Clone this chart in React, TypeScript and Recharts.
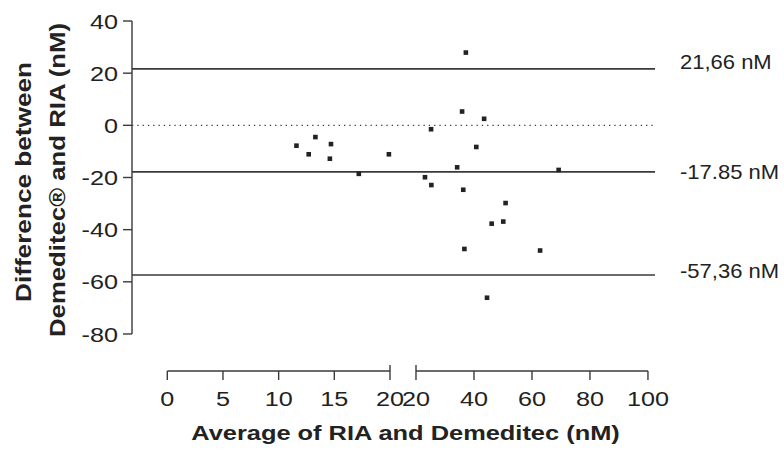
import React from 'react';
import { ScatterChart, Scatter, XAxis, YAxis, ReferenceLine, Label } from 'recharts';

// Bland-Altman: average of both assays vs. their difference (nM)
const AVERAGE = [
  11.6, 12.7, 13.3, 14.6, 14.7, 17.2, 19.9,
  23.1, 25.2, 25.3, 34.2, 35.9, 36.3, 36.7, 37.2, 40.8, 43.5,
  44.5, 46.1, 50.1, 50.9, 62.8, 69.2,
];
const DIFFERENCE = [
  -7.8, -11.1, -4.5, -12.8, -7.2, -18.6, -11.1,
  -19.9, -1.5, -22.9, -16.1, 5.3, -24.7, -47.4, 27.9, -8.3, 2.5,
  -66.1, -37.7, -36.9, -29.8, -48.0, -17.1,
];

const LIMITS = [21.66, -17.85, -57.36];
const LIMIT_LABELS = ['21,66 nM', '-17.85 nM', '-57,36 nM'];
const LIMIT_LABEL_SHIFT = [-7, 0, -4];

const Y_TICKS = [40, 20, 0, -20, -40, -60, -80];
const X_TICKS_LEFT = [0, 5, 10, 15, 20];
const X_TICKS_RIGHT = [20, 40, 60, 80, 100];

// broken x axis: 0-20 at full width, then a gap, then 20-100 squeezed
const BREAK = 20;
const GAP = 2.335;
const SQUEEZE = 0.2604;
const toU = (v: number, right = v > BREAK) => (right ? BREAK + GAP + (v - BREAK) * SQUEEZE : v);

const X_MIN = -3.17;
const X_MAX = 43.8;
const Y_TOP = 40;
const Y_BOTTOM = -80;
const Y_MIN = -94.19;

const X_TICK_POS = [...X_TICKS_LEFT.map((v) => toU(v, false)), ...X_TICKS_RIGHT.map((v) => toU(v, true))];
const X_TICK_LABELS = [...X_TICKS_LEFT, ...X_TICKS_RIGHT].map(String);

const points = AVERAGE.map((a, i) => ({ u: toU(a), d: DIFFERENCE[i] }));

const INK = '#222';
const LINE = '#3a3a3a';
const FONT = '"Liberation Sans", Arial, Helvetica, sans-serif';

const XTick = ({ x, y, payload, index }: any) => {
  const i = X_TICK_POS.indexOf(payload.value);
  return (
    <text
      transform={`translate(${x},${y}) scale(1.2,1)`}
      textAnchor="middle"
      dy="0.71em"
      fontSize={21}
      fontFamily={FONT}
      fill={INK}
    >
      {X_TICK_LABELS[i >= 0 ? i : index]}
    </text>
  );
};

const YTick = ({ x, y, payload }: any) => (
  <text
    transform={`translate(${x},${y}) scale(1.2,1)`}
    textAnchor="end"
    dy="0.36em"
    fontSize={21}
    fontFamily={FONT}
    fill={INK}
  >
    {payload.value}
  </text>
);

const XTitle = () => (
  <text
    transform="translate(405.5,440) scale(1.21,1)"
    textAnchor="middle"
    fontSize={21}
    fontWeight="bold"
    fontFamily={FONT}
    fill={INK}
  >
    Average of RIA and Demeditec (nM)
  </text>
);

const YTitle = () => (
  <g fontSize={22} fontWeight="bold" fontFamily={FONT} fill={INK}>
    <text transform="translate(31,182) rotate(-90) scale(1.19,1)" textAnchor="middle">
      Difference between
    </text>
    <text transform="translate(65,180) rotate(-90) scale(1.17,1)" textAnchor="middle">
      Demeditec® and RIA (nM)
    </text>
  </g>
);

const limitLabel = (i: number) => (props: any) => {
  const vb = props.viewBox || {};
  return (
    <text
      transform={`translate(${vb.x + vb.width + 25},${vb.y + LIMIT_LABEL_SHIFT[i]}) scale(1.1,1)`}
      dy="0.36em"
      fontSize={20}
      fontFamily={FONT}
      fill={INK}
    >
      {LIMIT_LABELS[i]}
    </text>
  );
};

const Square = (p: any) => <rect x={p.cx - 2.3} y={p.cy - 2.3} width={4.6} height={4.6} fill={INK} />;

export default function App() {
  const breakTop = Y_MIN + 2.3;
  return (
    <div style={{ position: 'absolute', left: 0, top: 0, width: 784, height: 452, background: '#fff' }}>
      <ScatterChart width={784} height={452} margin={{ top: 21, right: 129, bottom: 0, left: 0 }}>
        <XAxis
          type="number"
          dataKey="u"
          domain={[X_MIN, X_MAX]}
          allowDataOverflow
          ticks={X_TICK_POS}
          interval={0}
          axisLine={false}
          tickLine={{ stroke: LINE, strokeWidth: 1.4 }}
          tickSize={9}
          tickMargin={11}
          height={81}
          tick={(p: any) => <XTick {...p} />}
        >
          <Label content={XTitle} />
        </XAxis>
        <YAxis
          type="number"
          dataKey="d"
          domain={[Y_MIN, Y_TOP]}
          allowDataOverflow
          ticks={Y_TICKS}
          interval={0}
          axisLine={false}
          tickLine={{ stroke: LINE, strokeWidth: 1.4 }}
          tickSize={9}
          tickMargin={5}
          width={132}
          tick={(p: any) => <YTick {...p} />}
        >
          <Label content={YTitle} />
        </YAxis>

        {/* offset y axis line, only over the tick range */}
        <ReferenceLine
          segment={[{ x: X_MIN, y: Y_BOTTOM }, { x: X_MIN, y: Y_TOP }]}
          stroke={LINE}
          strokeWidth={1.4}
          ifOverflow="visible"
        />
        {/* broken x axis line: two segments with end marks at the break */}
        <ReferenceLine
          segment={[{ x: toU(0, false), y: Y_MIN }, { x: toU(BREAK, false), y: Y_MIN }]}
          stroke={LINE}
          strokeWidth={1.4}
          ifOverflow="visible"
        />
        <ReferenceLine
          segment={[{ x: toU(BREAK, true), y: Y_MIN }, { x: toU(100, true), y: Y_MIN }]}
          stroke={LINE}
          strokeWidth={1.4}
          ifOverflow="visible"
        />
        <ReferenceLine
          segment={[{ x: toU(BREAK, false), y: Y_MIN }, { x: toU(BREAK, false), y: breakTop }]}
          stroke={LINE}
          strokeWidth={1.4}
          ifOverflow="visible"
        />
        <ReferenceLine
          segment={[{ x: toU(BREAK, true), y: Y_MIN }, { x: toU(BREAK, true), y: breakTop }]}
          stroke={LINE}
          strokeWidth={1.4}
          ifOverflow="visible"
        />

        <ReferenceLine y={0} stroke={LINE} strokeWidth={1.3} strokeDasharray="1.3 4" ifOverflow="visible" />
        {LIMITS.map((v, i) => (
          <ReferenceLine
            key={v}
            y={v}
            stroke={LINE}
            strokeWidth={1.6}
            ifOverflow="visible"
            label={limitLabel(i)}
          />
        ))}

        <Scatter data={points} shape={Square} isAnimationActive={false} />
      </ScatterChart>
    </div>
  );
}
